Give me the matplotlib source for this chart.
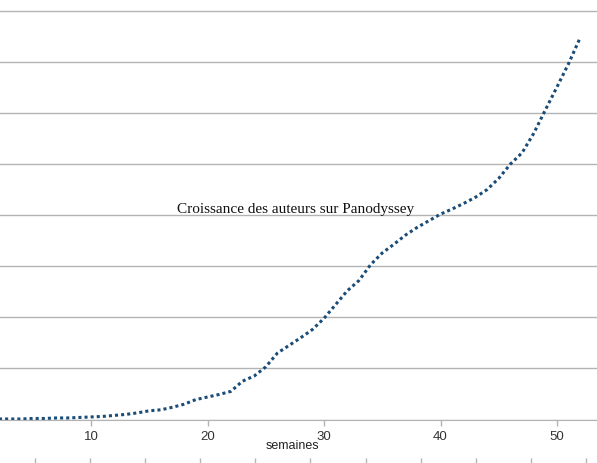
import matplotlib
matplotlib.use("Agg")
import matplotlib.pyplot as plt

# nombre d'auteurs par semaine
semaines = list(range(1, 53))
auteurs = [0, 1, 1, 1, 2, 2, 3, 3, 4, 5,
           6, 8, 10, 13, 17, 19, 24, 30, 39, 44,
           49, 55, 75, 85, 103, 130, 145, 160, 176, 198,
           225, 252, 272, 303, 326, 343, 361, 376, 389, 402,
           412, 423, 435, 450, 472, 500, 522, 560, 606, 651,
           697, 748]
xticks = [10, 20, 30, 40, 50]
titre = "Croissance des auteurs sur Panodyssey"
xlabel = "semaines"

grid_col = "#b3b3b3"

fig = plt.figure(figsize=(5.97, 4.63), dpi=100)
ax = fig.add_axes([0, 1 - 419.5 / 463, 1, 419.5 / 463])

ax.plot(semaines, auteurs, color="#1a4c78", lw=2.2, linestyle=(0, (1, 1)))

ax.set_xlim(2.19, 53.43)
ax.set_ylim(0, 821)
ax.set_yticks(range(0, 801, 100))
ax.yaxis.grid(True, color=grid_col, lw=1)
ax.set_axisbelow(True)
ax.tick_params(axis="y", left=False, labelleft=False)
ax.set_xticks(xticks)
ax.tick_params(axis="x", colors=grid_col, length=4, width=1, pad=4,
               labelsize=9.5, labelcolor="#333333")
for lab in ax.get_xticklabels():
    lab.set_fontfamily("Liberation Sans")
for s in ["top", "left", "right"]:
    ax.spines[s].set_visible(False)
ax.spines["bottom"].set_color(grid_col)

fig.text(296 / 597, 1 - 210 / 463, titre, family="Liberation Serif",
         fontsize=11, ha="center", va="center", color="#111111")
fig.text(292 / 597, 1 - 446 / 463, xlabel, family="Liberation Sans",
         fontsize=9, ha="center", va="center", color="#222222")

# ticks d'un second graphique coupé en bas
ax2 = fig.add_axes([0, 0, 1, 8 / 463])
ax2.set_xlim(-0.635, 10.2)
ax2.set_xticks(range(0, 11))
ax2.tick_params(axis="x", bottom=True, direction="in", length=3.8, width=1,
                colors=grid_col, labelbottom=False)
ax2.set_yticks([])
ax2.patch.set_visible(False)
for s in ax2.spines.values():
    s.set_visible(False)

fig.savefig("out.png", dpi=100)
